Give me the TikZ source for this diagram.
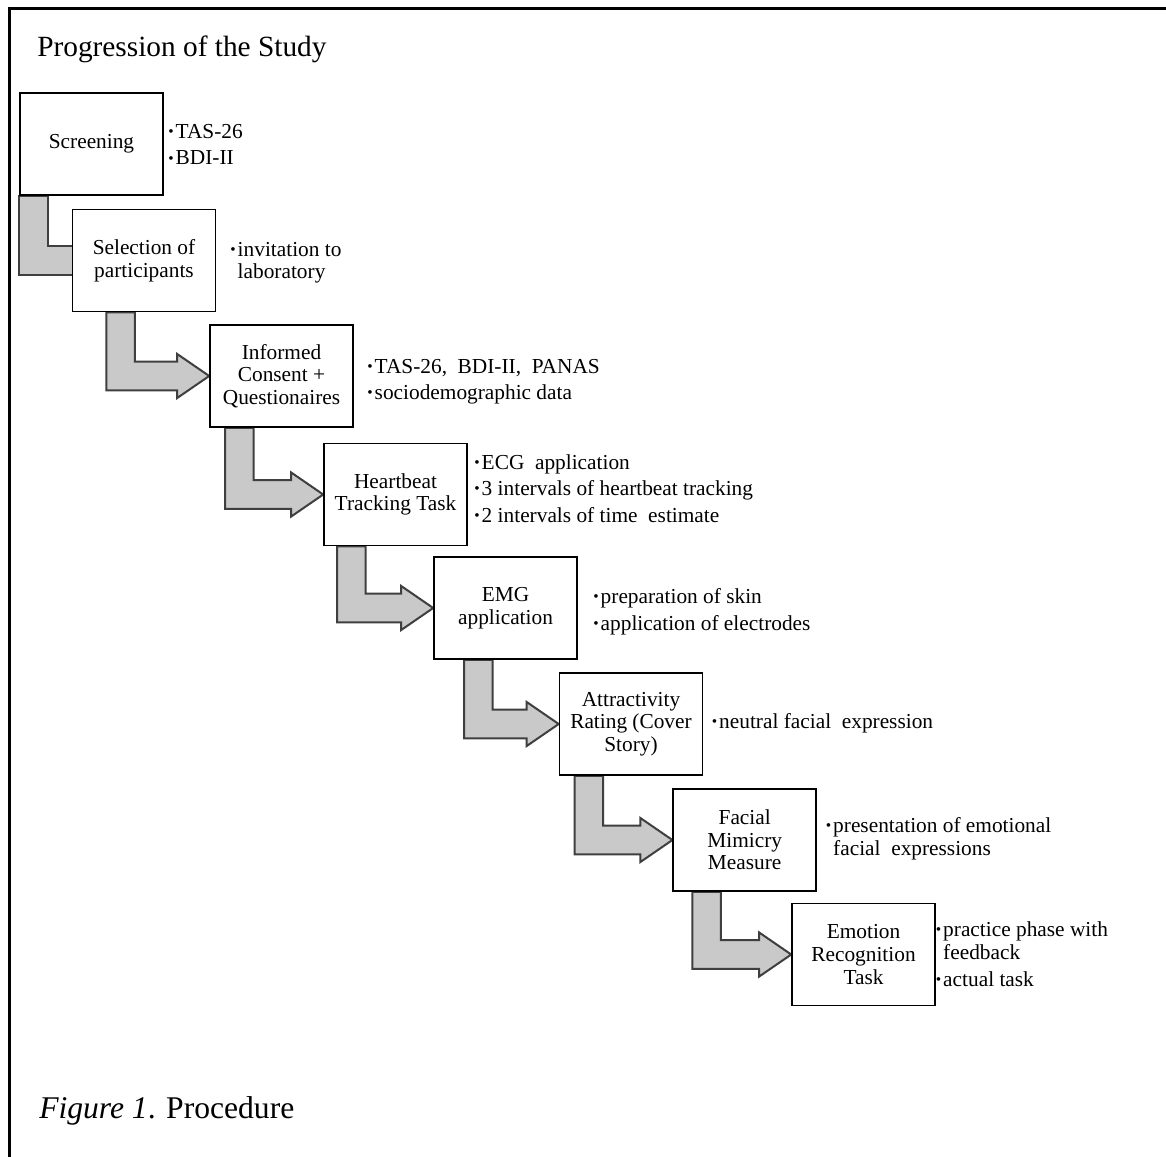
\documentclass[tikz,border=0pt]{standalone}
\usepackage{fontspec}
\setmainfont{Liberation Serif}
\usepackage{graphicx}
\usetikzlibrary{calc}
\pgfdeclarelayer{bg}
\pgfsetlayers{bg,main}
\definecolor{arrowfill}{HTML}{C9C9C9}
\definecolor{arrowline}{HTML}{3F3F3F}
\newcommand\bul{\makebox[5.6pt][l]{\raisebox{0.09em}{\scalebox{0.72}{•}}}}
\newcommand\ind{\hspace*{5.6pt}}
\tikzset{
  stepbox/.style={draw=black, line width=1.2pt, fill=white,
    minimum width=107.25pt, minimum height=76.5pt, inner sep=0pt,
    align=center, font=\fontsize{16}{17}\selectfont},
  notes/.style={anchor=base west, inner sep=0pt, font=\fontsize{16}{17}\selectfont},
  garrow/.style={draw=arrowline, fill=arrowfill, line width=1.5pt, line join=miter},
}
\newcommand\bentarrow[3]{%
  \draw[garrow] let \p1=(#1.south west), \p2=(#2.west) in
    (\x1+#3*0.75pt,\y1) -- (\x1+#3*0.75pt,\y2-10.7pt) -- (\x2-24pt,\y2-10.7pt)
    -- (\x2-24pt,\y2-16.5pt) -- (\p2) -- (\x2-24pt,\y2+16.5pt) -- (\x2-24pt,\y2+10.7pt)
    -- (\x1+#3*0.75pt+21.4pt,\y2+10.7pt) -- (\x1+#3*0.75pt+21.4pt,\y1) -- cycle;}
\newcommand\bentbar[3]{%
  \draw[garrow] let \p1=(#1.south west), \p2=(#2.west) in
    (\x1+#3*0.75pt,\y1) -- (\x1+#3*0.75pt,\y2-10.7pt) -- (\x2+6pt,\y2-10.7pt)
    -- (\x2+6pt,\y2+10.7pt)
    -- (\x1+#3*0.75pt+21.4pt,\y2+10.7pt) -- (\x1+#3*0.75pt+21.4pt,\y1) -- cycle;}
\begin{document}
\begin{tikzpicture}[x=0.75pt,y=-0.75pt]
\useasboundingbox (0,0) rectangle (1166,1156);
\draw[line width=2.25pt, line join=miter] (9,1170) -- (9,9) -- (1180,9);

\node[anchor=base west, inner sep=0pt, font=\fontsize{22}{26}\selectfont] (title) at (37,56) {Progression of the Study};
\node[anchor=base west, inner sep=0pt, font=\fontsize{23.7}{28}\selectfont] (caption) at (39,1118) {\textit{Figure 1}. Procedure};

\node[stepbox] (s1) at (91.5,144) {Screening};
\node[stepbox] (s2) at (144,260.5) {Selection of\\participants};
\node[stepbox] (s3) at (281.5,376) {Informed\\Consent +\\Questionaires};
\node[stepbox] (s4) at (395.5,494.5) {Heartbeat\\Tracking Task};
\node[stepbox] (s5) at (505.5,608) {EMG\\application};
\node[stepbox] (s6) at (631,724) {Attractivity\\Rating (Cover\\Story)};
\node[stepbox] (s7) at (744.7,840) {Facial\\Mimicry\\Measure};
\node[stepbox] (s8) at (863.5,954.5) {Emotion\\Recognition\\Task};

\begin{pgfonlayer}{bg}
\fill[white] (0,0) rectangle (1166,1156);
\bentbar{s1}{s2}{0}
\bentarrow{s2}{s3}{34.7}
\bentarrow{s3}{s4}{16}
\bentarrow{s4}{s5}{14}
\bentarrow{s5}{s6}{31}
\bentarrow{s6}{s7}{16}
\bentarrow{s7}{s8}{20}
\end{pgfonlayer}

\node[notes] (n1) at (168,138) {\begin{tabular}[t]{@{}l@{}}\bul TAS-26\\[3.2pt]\bul BDI-II\end{tabular}};
\node[notes] (n2) at (230,256) {\begin{tabular}[t]{@{}l@{}}\bul invitation to\\\ind laboratory\end{tabular}};
\node[notes] (n3) at (367,373.5) {\begin{tabular}[t]{@{}l@{}}\bul TAS-26,\ \ BDI-II,\ \ PANAS\\[2.5pt]\bul sociodemographic data\end{tabular}};
\node[notes] (n4) at (474,469.5) {\begin{tabular}[t]{@{}l@{}}\bul ECG\ \ application\\[2.8pt]\bul 3 intervals of heartbeat tracking\\[2.8pt]\bul 2 intervals of time\ \ estimate\end{tabular}};
\node[notes] (n5) at (593,603.5) {\begin{tabular}[t]{@{}l@{}}\bul preparation of skin\\[3pt]\bul application of electrodes\end{tabular}};
\node[notes] (n6) at (711.5,728.3) {\begin{tabular}[t]{@{}l@{}}\bul neutral facial\ \ expression\end{tabular}};
\node[notes] (n7) at (825.5,832.7) {\begin{tabular}[t]{@{}l@{}}\bul presentation of emotional\\\ind facial\ \ expressions\end{tabular}};
\node[notes] (n8) at (935.5,936.7) {\begin{tabular}[t]{@{}l@{}}\bul practice phase with\\\ind feedback\\[3pt]\bul actual task\end{tabular}};
\end{tikzpicture}
\end{document}
